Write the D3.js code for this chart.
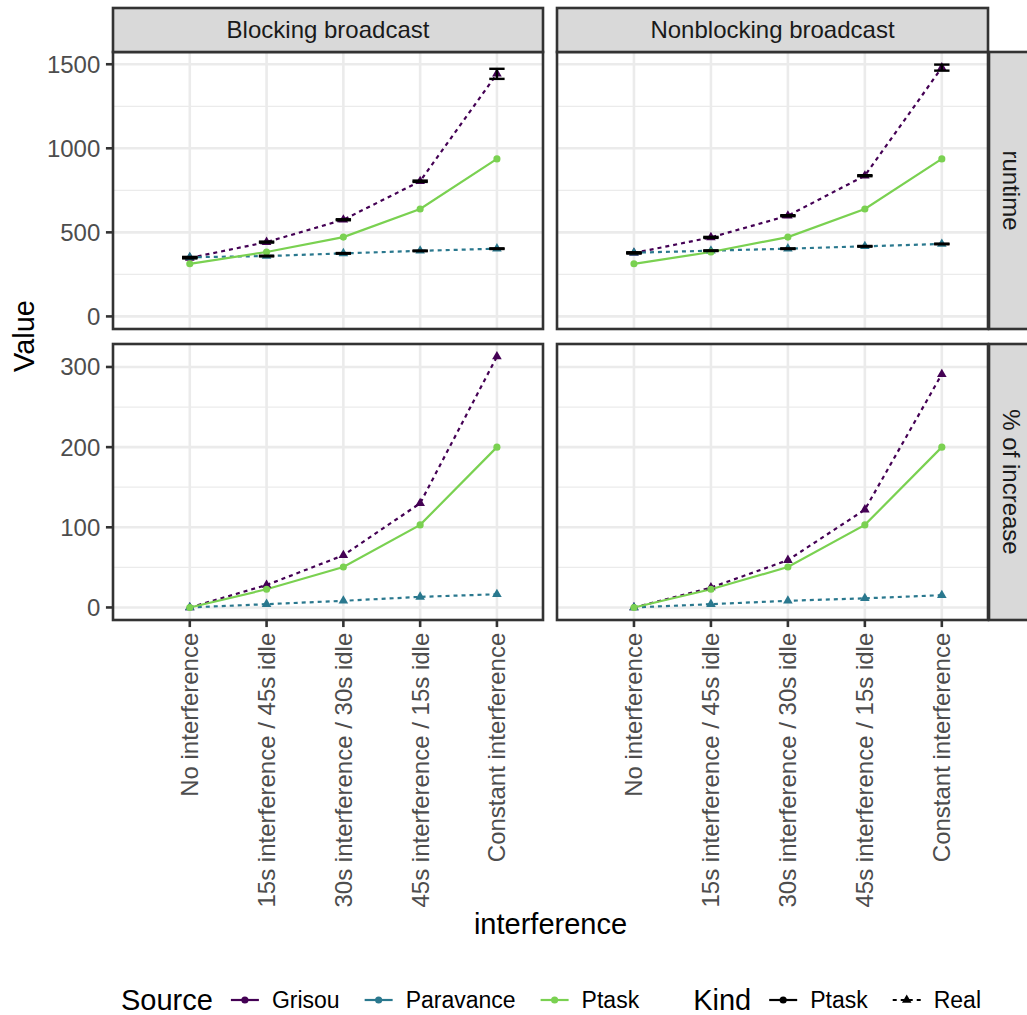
<!DOCTYPE html>
<html>
<head>
<meta charset="utf-8">
<script src="https://cdn.jsdelivr.net/npm/d3@7"></script>
<style>
  html, body { margin: 0; padding: 0; background: #fff; }
  svg { display: block; font-family: "Liberation Sans", Arial, Helvetica, sans-serif; }
</style>
</head>
<body>
<svg id="chart" width="1027" height="1015"></svg>
<script>
// ---------------- data ----------------
const categories = ["No interference", "15s interference / 45s idle", "30s interference / 30s idle", "45s interference / 15s idle", "Constant interference"];
const broadcasts = ["Blocking broadcast", "Nonblocking broadcast"];
const metrics = ["runtime", "% of increase"];
const sources = ["Grisou", "Paravance", "Ptask"];
const sourceKind = ["Real", "Real", "Ptask"];
const kinds = ["Ptask", "Real"];
const sourceColors = ["#440154", "#2A788E", "#7AD151"];

// runtime (mean) per broadcast
const grisouRuntimeBlocking = [348, 442, 575, 804, 1443];
const paravanceRuntimeBlocking = [352, 359, 375, 390, 403];
const ptaskRuntimeBlocking = [313, 383, 472, 639, 937];
const grisouRuntimeNonblocking = [377, 470, 599, 837, 1480];
const paravanceRuntimeNonblocking = [379, 391, 403, 417, 431];
const ptaskRuntimeNonblocking = [313, 383, 472, 639, 937];

// runtime error half-widths (Real measurements only)
const grisouErrBlocking = [3, 3, 3, 4, 30];
const paravanceErrBlocking = [2, 2, 2, 2, 2];
const grisouErrNonblocking = [3, 3, 3, 3, 18];
const paravanceErrNonblocking = [2, 2, 2, 2, 2];

// % of increase
const grisouPctBlocking = [0, 28, 65, 130, 313];
const paravancePctBlocking = [0, 4.1, 8.3, 13.2, 16.5];
const ptaskPctBlocking = [0, 22.7, 50.4, 103, 200];
const grisouPctNonblocking = [0, 24.8, 59, 122, 291];
const paravancePctNonblocking = [0, 4.1, 8.3, 11.4, 15.3];
const ptaskPctNonblocking = [0, 22.7, 50.4, 103, 200];

const runtimeTicks = [0, 500, 1000, 1500];
const pctTicks = [0, 100, 200, 300];

// ---------------- assemble ----------------
const panelData = {
  "runtime|Blocking broadcast": {
    values: [grisouRuntimeBlocking, paravanceRuntimeBlocking, ptaskRuntimeBlocking],
    errs: [grisouErrBlocking, paravanceErrBlocking, null]
  },
  "runtime|Nonblocking broadcast": {
    values: [grisouRuntimeNonblocking, paravanceRuntimeNonblocking, ptaskRuntimeNonblocking],
    errs: [grisouErrNonblocking, paravanceErrNonblocking, null]
  },
  "% of increase|Blocking broadcast": {
    values: [grisouPctBlocking, paravancePctBlocking, ptaskPctBlocking],
    errs: [null, null, null]
  },
  "% of increase|Nonblocking broadcast": {
    values: [grisouPctNonblocking, paravancePctNonblocking, ptaskPctNonblocking],
    errs: [null, null, null]
  }
};
const rowTicks = { "runtime": runtimeTicks, "% of increase": pctTicks };

// ---------------- layout ----------------
const cols = [{ x0: 113, x1: 543 }, { x0: 557, x1: 988 }];
const rows = [{ y0: 52, y1: 329 }, { y0: 344, y1: 620 }];
const stripTop = { y0: 8, y1: 52 };
const stripRight = { x0: 989, x1: 1033 };
const pt = 2.57;
const tickFont = 24, titleFont = 29, legendFont = 23;
const gridMajor = 2.6, gridMinor = 1.3, borderW = 2.6, dataW = 2.2;
const tickLen = 2.75 * pt, tickGap = 2.2 * pt;
const dash = "4,4";

const svg = d3.select("#chart");
svg.append("rect").attr("width", 1027).attr("height", 1015).attr("fill", "#fff");

const colorScale = d3.scaleOrdinal().domain(sources).range(sourceColors);
const dashScale = d3.scaleOrdinal().domain(kinds).range([null, dash]);
const symScale = d3.scaleOrdinal().domain(kinds).range([d3.symbolCircle, d3.symbolTriangle]);
const symSize = { "Ptask": 40, "Real": 40 };

// y scales per row (free y)
const yScales = metrics.map((m, ri) => {
  let maxV = 0;
  broadcasts.forEach(b => {
    const pd = panelData[m + "|" + b];
    pd.values.forEach((arr, si) => arr.forEach((v, i) => {
      const e = pd.errs[si] ? pd.errs[si][i] : 0;
      maxV = Math.max(maxV, v + e);
    }));
  });
  const pad = 0.05 * maxV;
  return d3.scaleLinear().domain([0 - pad, maxV + pad]).range([rows[ri].y1, rows[ri].y0]);
});

metrics.forEach((m, ri) => {
  const r = rows[ri];
  const y = yScales[ri];
  const ticks = rowTicks[m];
  const minor = [];
  for (let i = -1; i < ticks.length; i++) {
    const step = ticks[1] - ticks[0];
    const v = ticks[0] + step * i + step / 2;
    const [d0, d1] = y.domain();
    if (v > d0 && v < d1) minor.push(v);
  }

  broadcasts.forEach((b, ci) => {
    const c = cols[ci];
    const w = c.x1 - c.x0;
    const x = d3.scalePoint().domain(categories)
      .range([c.x0 + w * 1 / 5.6, c.x0 + w * 5 / 5.6]);
    const g = svg.append("g");
    g.append("rect").attr("x", c.x0).attr("y", r.y0).attr("width", w).attr("height", r.y1 - r.y0).attr("fill", "#fff");
    // minor grid
    g.selectAll(".mn").data(minor).join("line")
      .attr("x1", c.x0).attr("x2", c.x1).attr("y1", d => y(d)).attr("y2", d => y(d))
      .attr("stroke", "#EBEBEB").attr("stroke-width", gridMinor);
    // major grid
    g.selectAll(".mjy").data(ticks).join("line")
      .attr("x1", c.x0).attr("x2", c.x1).attr("y1", d => y(d)).attr("y2", d => y(d))
      .attr("stroke", "#EBEBEB").attr("stroke-width", gridMajor);
    g.selectAll(".mjx").data(categories).join("line")
      .attr("x1", d => x(d)).attr("x2", d => x(d)).attr("y1", r.y0).attr("y2", r.y1)
      .attr("stroke", "#EBEBEB").attr("stroke-width", gridMajor);

    const pd = panelData[m + "|" + b];
    const line = d3.line().x((d, i) => x(categories[i])).y(d => y(d));
    // lines
    sources.forEach((s, si) => {
      g.append("path").datum(pd.values[si]).attr("d", line)
        .attr("fill", "none").attr("stroke", colorScale(s)).attr("stroke-width", dataW)
        .attr("stroke-dasharray", dashScale(sourceKind[si]));
    });
    // points
    sources.forEach((s, si) => {
      const k = sourceKind[si];
      g.selectAll(null).data(pd.values[si]).join("path")
        .attr("transform", (d, i) => `translate(${x(categories[i])},${y(d)})`)
        .attr("d", d3.symbol().type(symScale(k)).size(symSize[k]))
        .attr("fill", colorScale(s));
    });
    // error bars
    const ebw = x.step() * 0.2 / 2;
    sources.forEach((s, si) => {
      const errs = pd.errs[si];
      if (!errs) return;
      const eg = g.append("g").attr("stroke", "#000").attr("stroke-width", 2.4).attr("fill", "none");
      pd.values[si].forEach((v, i) => {
        const cx = x(categories[i]);
        const lo = y(v - errs[i]), hi = y(v + errs[i]);
        eg.append("line").attr("x1", cx - ebw).attr("x2", cx + ebw).attr("y1", lo).attr("y2", lo);
        eg.append("line").attr("x1", cx - ebw).attr("x2", cx + ebw).attr("y1", hi).attr("y2", hi);
        eg.append("line").attr("x1", cx).attr("x2", cx).attr("y1", lo).attr("y2", hi);
      });
    });
    // border
    g.append("rect").attr("x", c.x0).attr("y", r.y0).attr("width", w).attr("height", r.y1 - r.y0)
      .attr("fill", "none").attr("stroke", "#333333").attr("stroke-width", borderW);

    // y axis on left column
    if (ci === 0) {
      const ag = svg.append("g");
      ag.selectAll(null).data(ticks).join("line")
        .attr("x1", c.x0 - tickLen).attr("x2", c.x0).attr("y1", d => y(d)).attr("y2", d => y(d))
        .attr("stroke", "#333333").attr("stroke-width", borderW);
      ag.selectAll(null).data(ticks).join("text")
        .attr("x", c.x0 - tickLen - tickGap).attr("y", d => y(d)).attr("dy", "0.35em")
        .attr("text-anchor", "end").attr("font-size", tickFont).attr("fill", "#4D4D4D")
        .text(d => d);
    }
    // x axis on bottom row
    if (ri === rows.length - 1) {
      const ag = svg.append("g");
      ag.selectAll(null).data(categories).join("line")
        .attr("x1", d => x(d)).attr("x2", d => x(d)).attr("y1", r.y1).attr("y2", r.y1 + tickLen)
        .attr("stroke", "#333333").attr("stroke-width", borderW);
      ag.selectAll(null).data(categories).join("text")
        .attr("transform", d => `translate(${x(d)},${r.y1 + tickLen + tickGap}) rotate(-90)`)
        .attr("dy", "0.35em").attr("text-anchor", "end")
        .attr("font-size", tickFont).attr("fill", "#4D4D4D")
        .text(d => d);
    }
    // top strips
    if (ri === 0) {
      svg.append("rect").attr("x", c.x0).attr("y", stripTop.y0).attr("width", w).attr("height", stripTop.y1 - stripTop.y0)
        .attr("fill", "#D9D9D9").attr("stroke", "#333333").attr("stroke-width", borderW);
      svg.append("text").attr("x", (c.x0 + c.x1) / 2).attr("y", (stripTop.y0 + stripTop.y1) / 2).attr("dy", "0.35em")
        .attr("text-anchor", "middle").attr("font-size", tickFont).attr("fill", "#1A1A1A").text(b);
    }
  });
  // right strips
  svg.append("rect").attr("x", stripRight.x0).attr("y", r.y0).attr("width", stripRight.x1 - stripRight.x0).attr("height", r.y1 - r.y0)
    .attr("fill", "#D9D9D9").attr("stroke", "#333333").attr("stroke-width", borderW);
  svg.append("text")
    .attr("transform", `translate(${(stripRight.x0 + stripRight.x1) / 2},${(r.y0 + r.y1) / 2}) rotate(90)`)
    .attr("dy", "0.35em").attr("text-anchor", "middle").attr("font-size", tickFont).attr("fill", "#1A1A1A").text(m);
});

// axis titles
svg.append("text").attr("x", (cols[0].x0 + cols[1].x1) / 2).attr("y", 934)
  .attr("text-anchor", "middle").attr("font-size", titleFont).attr("fill", "#000").text("interference");
svg.append("text").attr("transform", `translate(34,${(rows[0].y0 + rows[1].y1) / 2}) rotate(-90)`)
  .attr("text-anchor", "middle").attr("font-size", titleFont).attr("fill", "#000").text("Value");

// ---------------- legend ----------------
const legY = 1000;
const keyW = 40;
let cx = 121;
const lg = svg.append("g");
function addTitle(t) {
  const el = lg.append("text").attr("x", cx).attr("y", legY).attr("dy", "0.35em")
    .attr("font-size", titleFont).attr("fill", "#000").text(t);
  cx += el.node().getComputedTextLength() + 12;
}
function addItem(label, color, kind) {
  const kc = cx + keyW / 2;
  lg.append("line").attr("x1", cx + keyW * 0.15).attr("x2", cx + keyW * 0.85).attr("y1", legY).attr("y2", legY)
    .attr("stroke", color).attr("stroke-width", dataW).attr("stroke-dasharray", dashScale(kind));
  lg.append("path").attr("transform", `translate(${kc},${legY})`)
    .attr("d", d3.symbol().type(symScale(kind)).size(symSize[kind])).attr("fill", color);
  cx += keyW + 7;
  const el = lg.append("text").attr("x", cx).attr("y", legY).attr("dy", "0.35em")
    .attr("font-size", legendFont).attr("fill", "#000").text(label);
  cx += el.node().getComputedTextLength() + 19;
}
addTitle("Source");
sources.forEach((s, si) => addItem(s, colorScale(s), "Ptask"));
cx += 35;
addTitle("Kind");
kinds.forEach(k => addItem(k, "#000", k));
</script>
</body>
</html>
